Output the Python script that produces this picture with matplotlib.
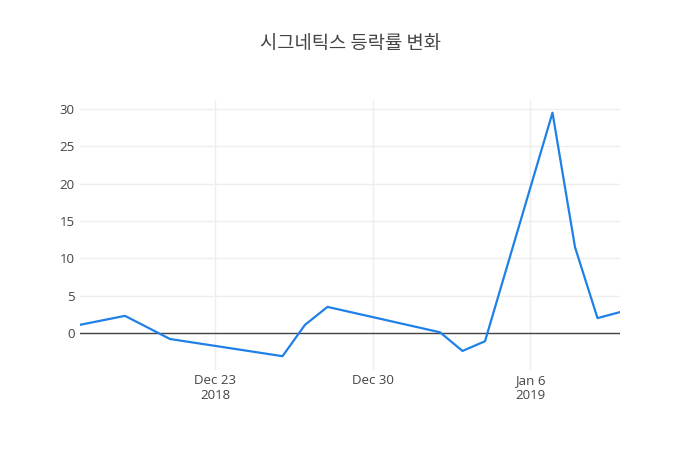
import pandas as pd
import numpy as np
import matplotlib.pyplot as plt
import matplotlib.dates as mdates

dates = ["2018-12-17", "2018-12-19", "2018-12-21", "2018-12-26", "2018-12-27",
         "2018-12-28", "2019-01-02", "2019-01-03", "2019-01-04", "2019-01-07",
         "2019-01-08", "2019-01-09", "2019-01-10"]
change = [1.1, 2.3, -0.8, -3.1, 1.1, 3.5, 0.1, -2.4, -1.1, 29.5, 11.5, 2.0, 2.8]
title = "시그네틱스 등락률 변화"
xticks = ["2018-12-23", "2018-12-30", "2019-01-06"]
xtick_labels = ["Dec 23\n2018", "Dec 30", "Jan 6\n2019"]
yticks = [0, 5, 10, 15, 20, 25, 30]

plt.rcParams["font.family"] = ["Open Sans", "Noto Sans CJK KR", "DejaVu Sans"]

x = pd.to_datetime(dates)
fig = plt.figure(figsize=(7, 4.5), dpi=100)
ax = fig.add_axes([80 / 700, 80 / 450, 540 / 700, 270 / 450])

ax.plot(x, change, color="#1f80e8", linewidth=1.6, zorder=3)
ax.axhline(0, color="#444444", linewidth=1, zorder=2)

ax.set_xlim(x[0], x[-1])
ax.set_ylim(-4.95, 31.2)
ax.set_yticks(yticks)
ax.set_xticks(pd.to_datetime(xticks))
ax.set_xticklabels(xtick_labels)
ax.grid(True, color="#eeeeee", linewidth=1, zorder=0)
for s in ax.spines.values():
    s.set_visible(False)
ax.tick_params(axis="both", length=0, labelsize=9.5, colors="#444444")
ax.tick_params(axis="x", pad=3)
ax.tick_params(axis="y", pad=4)

fig.text(350 / 700, 1 - 44 / 450, title, ha="center", va="center",
         fontsize=13.5, color="#444444", family=["Noto Sans CJK KR", "DejaVu Sans"])

fig.savefig("out.png", dpi=100)
